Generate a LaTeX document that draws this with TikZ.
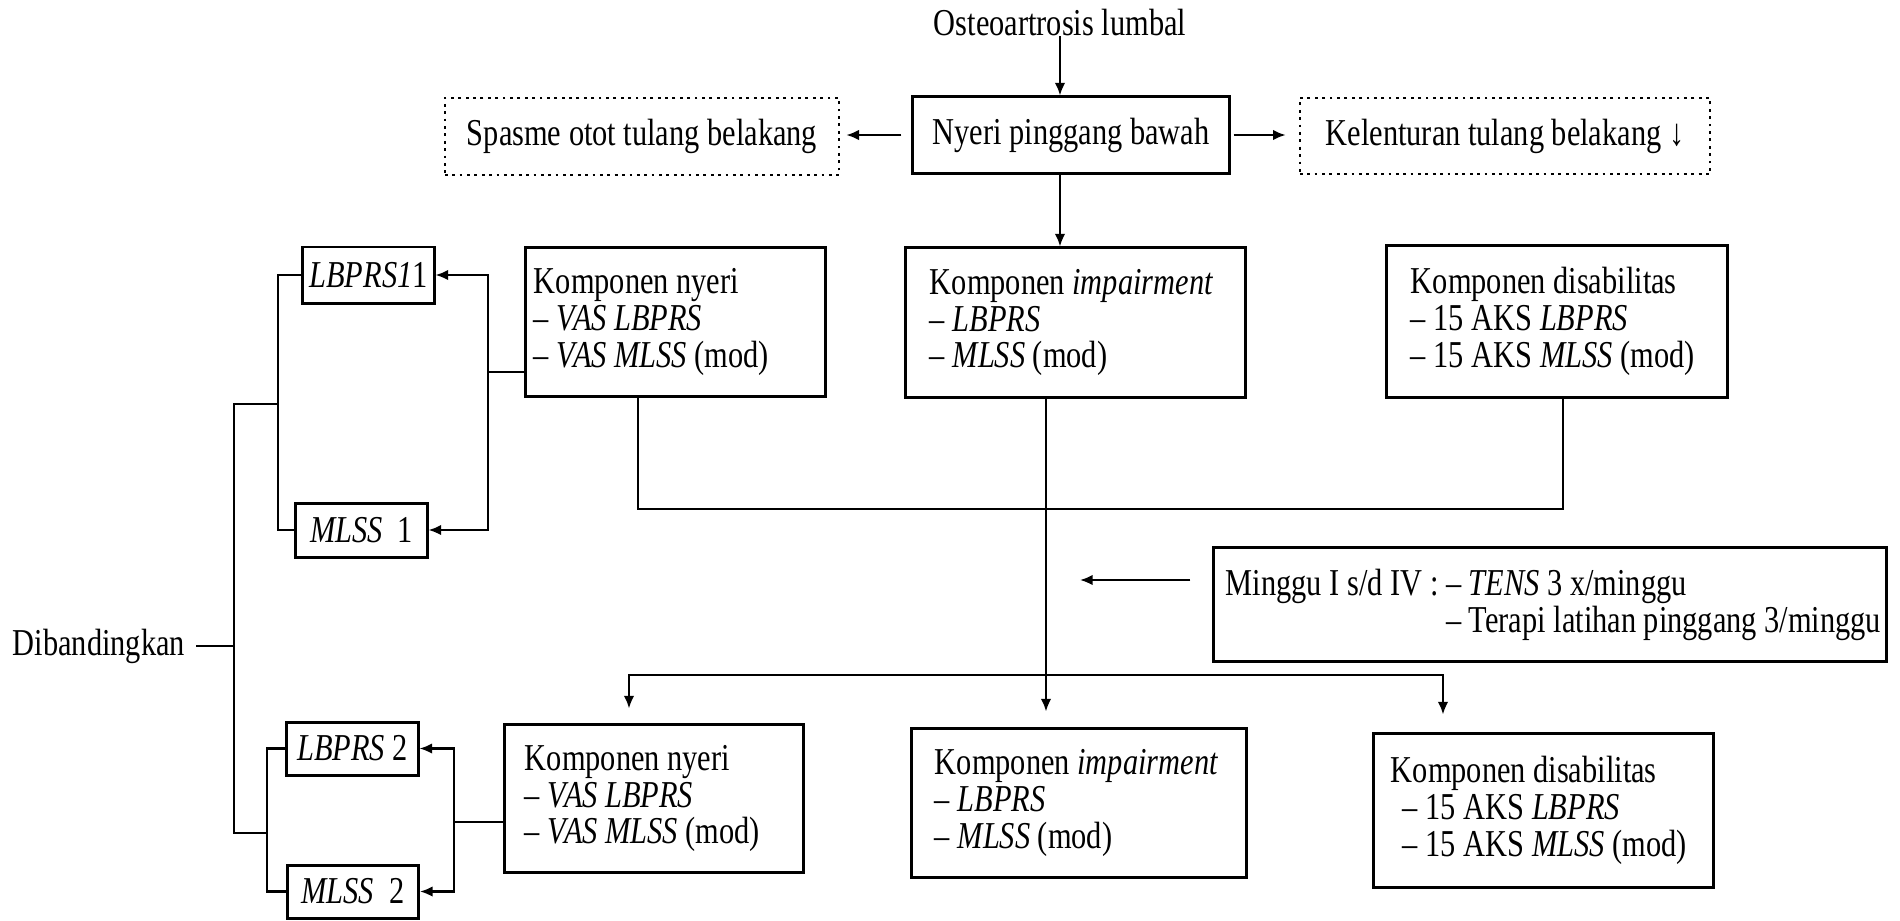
\documentclass[tikz,border=0pt]{standalone}
\usepackage{fontspec}
\setmainfont{Liberation Serif}[FakeStretch=0.8]
\usepackage{tikz}
\usetikzlibrary{arrows.meta}

\begin{document}
\begin{tikzpicture}[x=0.01cm,y=-0.01cm,
                    font=\fontsize{10.8}{10.5}\selectfont,
                    line width=0.6pt,>={Latex[length=3.6pt,width=3pt]},
                    box/.style={draw,line width=0.85pt,inner sep=0pt},
                    dot box/.style={draw,line width=0.7pt,dash pattern=on 0.8pt off 1.3pt,inner sep=0pt},
                    komp node/.style={draw,line width=0.85pt,align=flush left,inner ysep=0pt},
                    score node/.style={draw,line width=0.85pt,inner xsep=0.5mm,inner ysep=0pt,minimum width=1.31cm}]
\useasboundingbox (0,0) rectangle (1900,920);

%Top row
  \node[inner sep=0pt] (oa) at (1060,22) {Osteoartrosis lumbal};
  \node[box,minimum width=3.16cm,minimum height=0.76cm] (nb) at (1071,135) {Nyeri pinggang bawah};
  \node[dot box,minimum width=3.94cm,minimum height=0.77cm] (sp) at (642,136.5) {Spasme otot tulang belakang};
  \node[dot box,minimum width=4.10cm,minimum height=0.76cm] (kl) at (1505,136) {Kelenturan tulang belakang ↓};

  \draw[->] (oa.south) -- (oa.south |- nb.north);
  \draw[->,shorten <=1mm,shorten >=0.6mm] (nb.west) -- (nb.west -| sp.east);
  \draw[->,shorten <=0.3mm,shorten >=1.3mm] (nb.east) -- (nb.east -| kl.west);

%Komponen before therapy
  \node[komp node,text width=2.83cm,inner xsep=0.8mm,minimum height=1.48cm] (kn1) at (675.5,322)
       {Komponen nyeri\\– \textit{VAS LBPRS}\\– \textit{VAS MLSS} (mod)};
  \node[komp node,text width=2.91cm,inner xsep=2.4mm,minimum height=1.49cm] (ki1) at (1075.5,322.5)
       {Komponen \textit{impairment}\\– \textit{LBPRS}\\– \textit{MLSS} (mod)};
  \node[komp node,text width=2.92cm,inner xsep=2.4mm,minimum height=1.51cm] (kd1) at (1557,321.5)
       {Komponen disabilitas\\– 15 AKS \textit{LBPRS}\\– 15 AKS \textit{MLSS} (mod)};

  \draw[->] (nb.south -| oa) -- (oa |- ki1.north);

  \coordinate (u1) at (638,509);
  \coordinate (u2) at (1563,509);
  \draw (kn1.south -| u1) -- (u1) -- (u2) -- (kd1.south -| u2);

%Therapy
  \node[komp node,text width=6.48cm,inner xsep=1.2mm,minimum height=1.13cm] (mg) at (1550,604.5)
       {Minggu I s/d IV : – \textit{TENS} 3 x/minggu\\\mbox{\hphantom{Minggu I s/d IV : }– Terapi latihan pinggang 3/minggu}};

%Komponen after therapy
  \node[komp node,text width=2.58cm,inner xsep=2mm,minimum height=1.47cm] (kn2) at (654,798.5)
       {Komponen nyeri\\– \textit{VAS LBPRS}\\– \textit{VAS MLSS} (mod)};
  \node[komp node,text width=2.88cm,inner xsep=2.3mm,minimum height=1.48cm] (ki2) at (1079,803)
       {Komponen \textit{impairment}\\– \textit{LBPRS}\\– \textit{MLSS} (mod)};
  \node[komp node,text width=3.05cm,inner xsep=1.7mm,minimum height=1.53cm] (kd2) at (1543.5,810.5)
       {Komponen disabilitas\\\hspace*{1.2mm}– 15 AKS \textit{LBPRS}\\\hspace*{1.2mm}– 15 AKS \textit{MLSS} (mod)};

  \coordinate (tr) at (1046,580);
  \draw[->,shorten >=1.6mm] (ki1.south -| tr) -- (ki2.north -| tr);
  \draw[->,shorten <=2.2mm,shorten >=3.4mm] (mg.west |- tr) -- (tr);

  \coordinate (dL) at (629,675);
  \coordinate (dR) at (1443,675);
  \draw[<->,shorten <=1.5mm,shorten >=1.8mm] (dL |- kn2.north) -- (dL) -- (dR) -- (dR |- kd2.north);

%Scores 1
  \node[score node,minimum height=0.56cm] (lb1) at (368.5,275) {\textit{LBPRS1}1};
  \node[score node,minimum height=0.54cm] (ml1) at (361.5,530) {\textit{MLSS}~~1};

  \coordinate (br1) at (278,404);
  \coordinate (j1) at (488,372);
  \draw (lb1.west) -| (br1) |- (ml1.west);
  \draw (kn1.west |- j1) -- (j1);
  \draw[->] (j1) |- (lb1.east);
  \draw[->] (j1) |- (ml1.east);

%Scores 2
  \node[score node,minimum height=0.53cm] (lb2) at (352.5,748.5) {\textit{LBPRS}~2};
  \node[score node,minimum height=0.53cm] (ml2) at (353,891.5) {\textit{MLSS}~~2};

  \coordinate (br2) at (267,833);
  \coordinate (j2) at (454,822);
  \draw (lb2.west) -| (br2) |- (ml2.west);
  \draw (kn2.west |- j2) -- (j2);
  \draw[->] (j2) |- (lb2.east);
  \draw[->] (j2) |- (ml2.east);

%Comparison
  \coordinate (bgA) at (234,404);
  \coordinate (bgB) at (234,833);
  \draw (br1) -- (bgA) -- (bgB) -- (br2);

  \node[inner sep=1mm,anchor=east] (dib) at (196,646) {Dibandingkan};
  \draw (dib.east) -- (dib.east -| bgA);

\end{tikzpicture}
\end{document}
